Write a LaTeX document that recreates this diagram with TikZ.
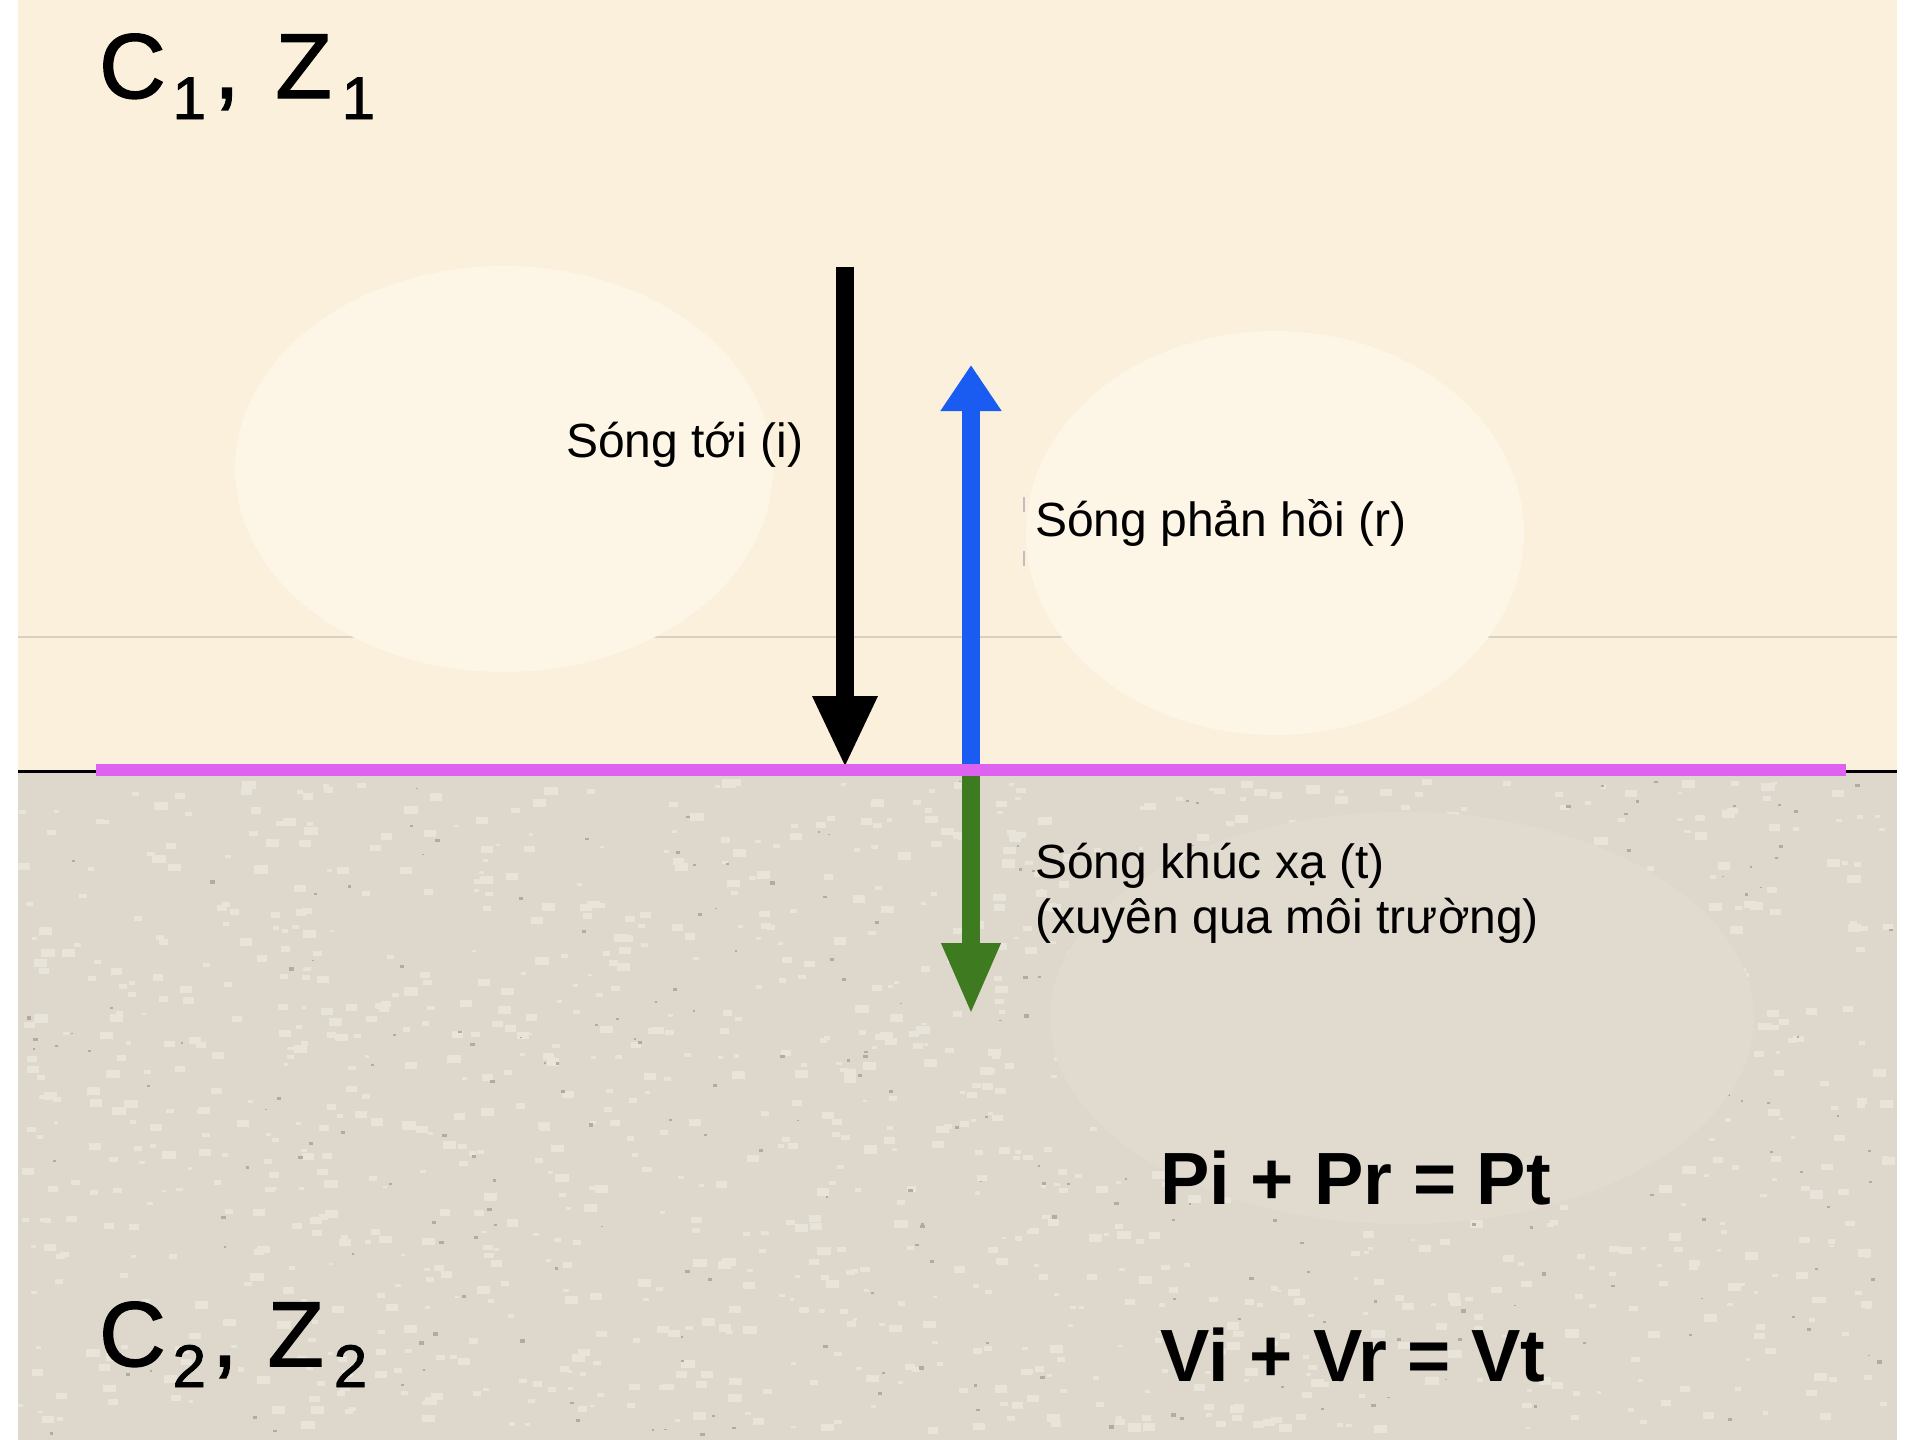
\documentclass[tikz,border=0pt]{standalone}
\usepackage{fontspec}
\setmainfont{Liberation Sans}
\newfontfamily\cornerfont[FakeBold=1.6]{Liberation Sans}
\usetikzlibrary{arrows.meta}
\definecolor{topbg}{HTML}{FBF0DC}
\definecolor{topblob}{HTML}{FDF5E5}
\definecolor{botbg}{HTML}{DED7CB}
\definecolor{botblob}{HTML}{E1DACF}
\definecolor{speckD}{HTML}{B3AB9F}
\definecolor{speckL}{HTML}{E9E4DA}
\definecolor{faintline}{HTML}{D9D0C2}
\definecolor{wblue}{HTML}{1A5CF2}
\definecolor{wgreen}{HTML}{3E7A1F}
\definecolor{wmag}{HTML}{DE62F0}
\definecolor{tick}{HTML}{C9B7C4}
\newcommand{\subdig}[1]{\raisebox{-21pt}{\fontsize{60}{60}\selectfont #1}}
\begin{document}
\begin{tikzpicture}[x=1pt,y=-1pt,
  lbl/.style={anchor=base west,inner sep=0pt,font=\fontsize{48}{55}\selectfont},
  eqn/.style={anchor=base west,inner sep=0pt,font=\fontsize{74}{80}\selectfont\bfseries},
  medium/.style={anchor=base west,inner sep=0pt,font=\cornerfont\fontsize{92}{96}\selectfont},
  wave/.style={line width=18pt}]
% canvas
\useasboundingbox (0,0) rectangle (1920,1440);
\fill[white] (0,0) rectangle (1920,1440);
\fill[topbg] (18,0) rectangle (1897,771);
\fill[botbg] (18,771) rectangle (1897,1440);
% texture of lower medium
\pgfmathsetseed{7}
\foreach \k in {1,...,1300}{
  \pgfmathsetmacro\sx{18+1866*rnd}
  \pgfmathsetmacro\sy{778+650*rnd}
  \pgfmathsetmacro\sw{4+10*rnd}
  \fill[speckL] (\sx,\sy) rectangle ++(\sw,0.6*\sw);
}
\foreach \k in {1,...,260}{
  \pgfmathsetmacro\sx{18+1872*rnd}
  \pgfmathsetmacro\sy{778+656*rnd}
  \pgfmathsetmacro\sw{2+3*rnd}
  \fill[speckD] (\sx,\sy) rectangle ++(\sw,0.7*\sw);
}
\fill[botblob] (1402,1018) ellipse [x radius=352, y radius=206];
% faint line and light ovals in upper medium
\draw[faintline, line width=2pt] (18,637) -- (1897,637);
\fill[topblob] (504,469) ellipse [x radius=269, y radius=203];
\fill[topblob] (1275,533) ellipse [x radius=249, y radius=202];
% interface
\coordinate (IL) at (18,771);
\coordinate (IR) at (1897,771);
\coordinate (ML) at (96,770);
\coordinate (MR) at (1846,770);
\draw[black, line width=3pt] (IL) -- (IR);
% waves
\coordinate (iTop) at (845,267);
\coordinate (iHit) at (845,768);
\coordinate (rBase) at (971,772);
\coordinate (rTop) at (971,365);
\coordinate (tBase) at (971,772);
\coordinate (tTip) at (971,1015);
\draw[wave, black, -{Triangle[length=72pt,width=60pt]}] (iTop) -- (iHit);
\draw[wave, wblue, -{Triangle[length=46pt,width=58pt]}] (rBase) -- (rTop);
\draw[wave, wgreen, -{Triangle[length=72pt,width=54pt]}] (tBase) -- (tTip);
\draw[wmag, line width=12pt] (ML) -- (MR);
% small marks beside reflected label
\draw[tick, line width=2pt] (1024,497) -- (1024,512);
\draw[tick, line width=2pt] (1024,551) -- (1024,566);
% labels
\node[medium] (m1) at (99,98) {C\kern7pt\subdig{1}\kern8pt,\kern36pt Z\kern10pt\subdig{1}};
\node[medium] (m2) at (99,1366) {C\kern7pt\subdig{2}\kern6pt,\kern30pt Z\kern10pt\subdig{2}};
\node[lbl] (inc) at (566,457) {Sóng tới (i)};
\node[lbl] (ref) at (1035,536) {Sóng phản hồi (r)};
\node[lbl, align=left, anchor=north west, font=\fontsize{48}{55}\selectfont] (tra) at (1035,843) {Sóng khúc xạ (t)\\(xuyên qua môi trường)};
\node[eqn] (eqP) at (1160,1204) {Pi + Pr = Pt};
\node[eqn] (eqV) at (1160,1381) {Vi + Vr = Vt};
\end{tikzpicture}
\end{document}
